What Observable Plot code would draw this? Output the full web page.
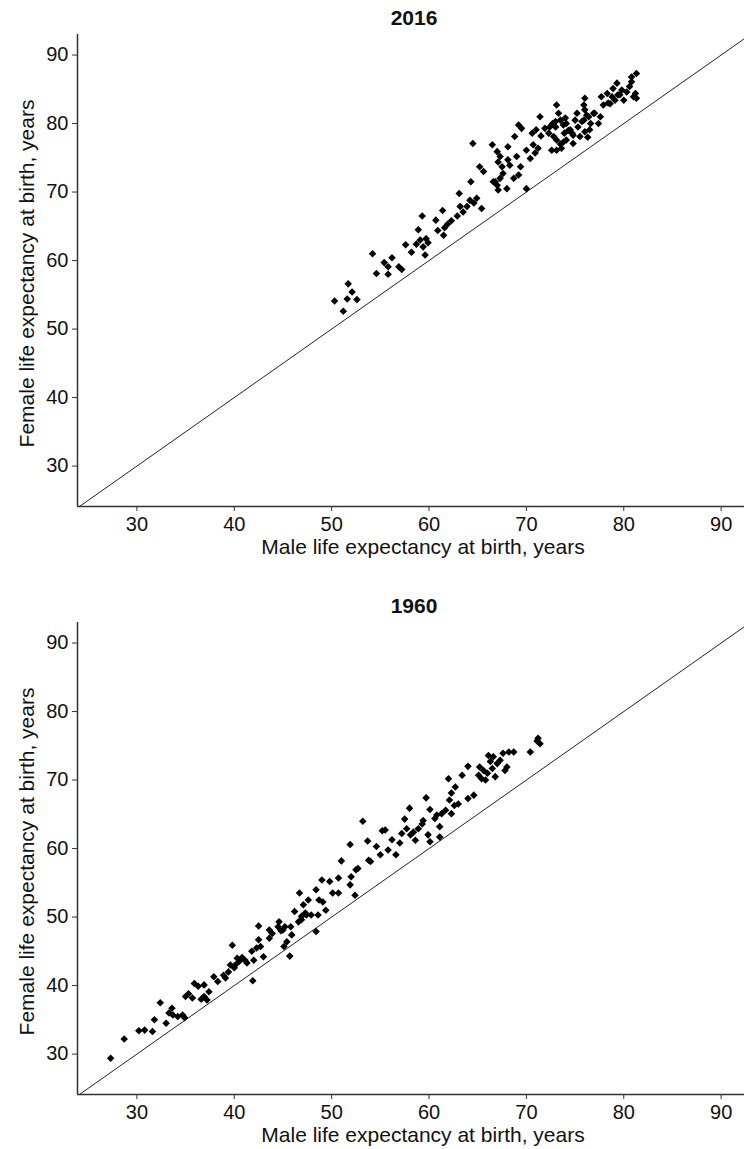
<!DOCTYPE html>
<html><head><meta charset="utf-8">
<script src="https://cdn.jsdelivr.net/npm/d3@7"></script>
<script src="https://cdn.jsdelivr.net/npm/@observablehq/plot@0.6"></script>
<style>
body{margin:0;background:#fff;font-family:"Liberation Sans",Arial,sans-serif;}
.title{width:744px;height:34px;box-sizing:border-box;padding-left:84px;text-align:center;font-weight:bold;font-size:21px;line-height:36px;color:#111;}
svg{display:block}
</style></head><body><div id="c"></div>
<script>
// 2016 panel
const male2016 = [50.3,51.2,51.6,51.7,52.1,52.6,54.2,54.6,55.4,55.8,56.2,55.8,56.9,57.2,57.6,58.2,58.7,58.9,59.3,59.1,59.4,59.6,59.7,59.9,60.7,61.4,60.9,61.5,61.6,61.9,62.3,62.9,63.1,63.2,63.5,63.9,64.2,64.6,64.9,65.4,64.3,65.2,65.6,64.5,66.5,66.6,67.0,67.1,67.0,67.3,67.1,67.5,67.6,67.3,66.8,68.0,68.1,68.3,68.1,68.8,69.2,69.5,69.0,69.4,68.7,69.2,70.0,70.0,70.4,70.6,70.7,70.9,71.2,71.4,71.0,71.5,71.9,72.3,72.4,72.7,73.1,73.3,73.0,73.5,73.1,73.5,72.6,73.1,73.6,73.9,74.1,74.1,74.3,74.7,74.8,75.2,75.3,75.5,76.0,75.9,76.2,76.5,76.9,77.4,77.6,77.7,78.3,78.6,78.9,79.1,79.3,79.4,79.8,80.0,80.3,80.6,81.0,80.8,81.3,81.2,80.8,81.3,79.6,78.8,77.9,78.4,77.0,76.6,75.9,76.0,76.4,75.0,75.7,76.0,74.0,73.8,73.0,74.5,74.8,73.8,72.8,76.3];
const female2016 = [54.1,52.6,54.4,56.6,55.4,54.3,61.0,58.1,59.7,59.1,60.4,58.0,59.1,58.7,62.3,61.2,62.4,64.5,66.5,63.0,62.0,60.8,63.2,62.6,65.9,67.3,64.4,63.7,64.8,65.3,65.8,66.5,69.8,67.9,67.1,67.9,68.8,68.4,69.1,67.6,71.5,73.7,73.0,77.1,76.9,71.5,71.0,70.3,75.9,75.2,74.4,73.7,72.7,72.0,71.5,70.5,74.7,73.9,76.6,78.1,79.8,79.3,75.2,73.7,72.0,72.5,70.5,76.1,74.9,78.6,76.9,75.7,76.4,81.0,79.1,78.2,79.3,78.6,79.5,80.0,82.7,81.5,80.3,80.5,77.6,77.0,76.1,76.1,76.4,78.6,80.0,77.6,79.0,78.6,77.1,81.5,79.5,78.1,83.7,80.5,81.2,79.1,81.5,80.0,81.0,83.9,84.4,82.9,85.1,83.4,85.9,84.2,84.9,83.4,84.6,85.4,83.9,86.8,87.3,84.4,86.1,83.7,84.2,83.9,82.7,83.0,81.5,80.0,82.7,82.0,81.0,80.5,80.3,78.8,80.8,79.8,79.5,79.1,78.3,77.3,78.1,78.0];

// 1960 panel
const male1960 = [27.3,28.7,30.2,30.8,31.6,31.8,32.4,33.0,33.3,33.6,33.7,34.2,34.7,35.0,35.3,35.7,35.9,36.3,36.9,36.9,37.2,37.4,37.9,38.9,39.1,39.4,39.6,39.8,40.1,40.3,40.5,40.8,41.1,41.3,41.8,41.9,42.0,42.3,42.5,42.5,42.7,43.0,43.6,43.6,44.5,44.6,45.0,45.1,45.4,45.2,45.8,45.7,45.9,46.2,46.6,46.7,46.9,47.1,47.4,47.6,47.9,48.4,48.4,48.6,48.7,49.0,49.1,49.8,50.1,50.7,50.7,51.0,51.9,52.0,52.4,52.5,52.7,51.9,53.2,53.7,53.8,54.0,54.6,55.0,55.2,55.5,55.8,56.2,56.6,57.0,57.2,57.5,57.7,58.0,58.1,58.4,58.6,58.9,59.3,59.4,59.7,59.9,60.1,60.1,60.6,60.8,61.1,61.1,61.3,61.7,62.0,62.1,62.3,62.3,62.6,62.7,63.0,63.4,64.0,64.0,64.6,65.1,65.2,65.4,65.6,65.8,66.0,66.1,66.3,66.5,66.6,66.8,67.0,67.3,67.6,67.8,68.0,68.2,68.7,70.4,71.2,71.4,71.1,40.0,44.8,46.9,47.3,43.9,34.9,36.6,38.3,49.4];
const female1960 = [29.4,32.2,33.4,33.5,33.3,35.0,37.5,34.5,36.0,36.7,35.7,35.5,35.7,38.4,38.8,38.2,40.3,39.9,38.4,40.1,37.9,39.1,41.3,41.5,41.1,42.0,43.0,45.9,43.0,44.0,43.5,44.1,43.7,43.3,45.0,40.7,43.7,45.5,46.7,48.7,45.7,44.2,46.9,48.1,48.6,49.3,48.1,45.7,46.4,48.6,48.6,44.3,47.4,50.8,49.3,53.5,50.1,51.8,50.3,52.5,50.3,54.0,47.9,50.3,52.5,55.4,52.2,55.2,53.5,55.7,53.5,58.2,54.7,55.9,53.2,56.9,57.1,60.6,64.0,61.1,58.3,58.1,60.3,59.1,62.6,62.7,59.8,61.3,59.1,60.8,62.2,64.3,62.9,65.9,62.0,62.4,61.2,62.9,63.6,64.1,67.4,62.0,61.0,65.7,64.4,64.9,63.2,61.7,65.1,65.6,70.2,67.1,68.1,65.1,66.3,69.0,66.5,70.7,67.3,72.0,67.8,70.7,71.9,70.2,71.4,70.0,71.0,73.6,72.7,71.7,73.4,70.5,72.4,72.9,73.9,71.4,71.9,74.1,74.1,74.1,76.1,75.3,75.7,42.6,48.0,49.6,50.6,47.6,35.3,38.0,40.6,51.0];

const ticks = [30, 40, 50, 60, 70, 80, 90];
const xDomain = [23.9, 92.4];
const yDomain = [24.1, 93];
const diagonal = [20, 100];
const xTitle = "Male life expectancy at birth, years";
const yTitle = "Female life expectancy at birth, years";
const font = "'Liberation Sans', Arial, sans-serif";

function panel(male, female, marginBottom) {
  const data = male.map((m, i) => ({male: m, female: female[i]}));
  return Plot.plot({
    width: 744, height: 472 + marginBottom,
    marginLeft: 77, marginRight: 0, marginTop: 0, marginBottom,
    style: {fontFamily: font, fontSize: "20px", color: "#111", background: "#fff", overflow: "visible"},
    x: {domain: xDomain},
    y: {domain: yDomain},
    marks: [
      Plot.line(diagonal, {x: d => d, y: d => d, stroke: "#222", strokeWidth: 1, clip: true}),
      Plot.ruleX([xDomain[0]], {stroke: "#333", strokeWidth: 1.5}),
      Plot.ruleY([yDomain[0]], {stroke: "#333", strokeWidth: 1.5}),
      Plot.dot(data, {x: "male", y: "female", symbol: "diamond2", r: 3.4, fill: "#000", stroke: null}),
      Plot.axisX({ticks, tickSize: 5, tickPadding: 5, label: null, stroke: "#333"}),
      Plot.axisY({ticks, tickSize: 5, tickPadding: 4, label: null, stroke: "#333"}),
      Plot.text([xTitle], {text: d => d, frameAnchor: "bottom", textAnchor: "middle", lineAnchor: "bottom", dx: 12, dy: 47, fontSize: 21, fill: "#111"}),
      Plot.text([yTitle], {text: d => d, frameAnchor: "left", textAnchor: "middle", lineAnchor: "bottom", rotate: -90, dx: -44, dy: 3, fontSize: 21, fill: "#111"})
    ]
  });
}

const c = document.getElementById("c");
function addTitle(t) {
  const d = document.createElement("div");
  d.className = "title";
  d.textContent = t;
  c.appendChild(d);
}
addTitle("2016");
c.appendChild(panel(male2016, female2016, 82));
addTitle("1960");
c.appendChild(panel(male1960, female1960, 55));
</script>
</body></html>
